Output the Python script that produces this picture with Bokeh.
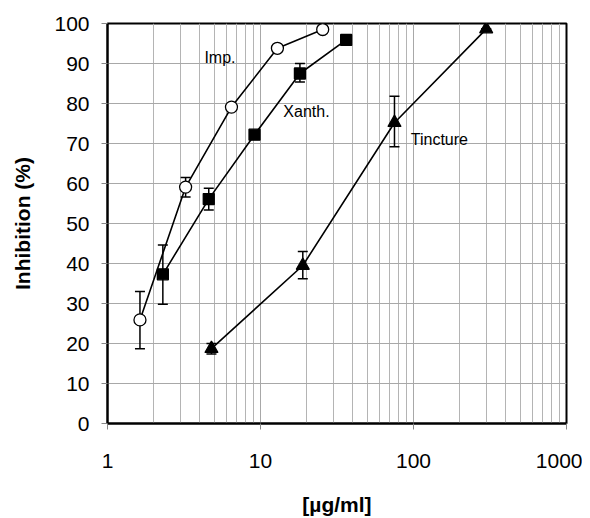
from bokeh.plotting import figure
from bokeh.models import (FixedTicker, Whisker, ColumnDataSource, Label,
                          CustomJSTickFormatter, TeeHead)
from bokeh.embed import file_html
from bokeh.resources import INLINE

# Imp. series (open circles)
imp_x = [1.63, 3.24, 6.46, 12.9, 25.5]
imp_y = [25.9, 59.1, 79.1, 93.8, 98.5]
imp_lo = [18.7, 56.6, 78.3, 93.0, 97.7]
imp_hi = [33.0, 61.5, 79.9, 94.6, 99.3]

# Xanth. series (filled squares)
xan_x = [2.30, 4.59, 9.14, 18.1, 36.3]
xan_y = [37.3, 56.1, 72.2, 87.5, 95.9]
xan_lo = [29.8, 53.4, 72.2, 85.4, 95.9]
xan_hi = [44.6, 58.8, 72.2, 90.0, 95.9]

# Tincture series (filled triangles)
tin_x = [4.78, 18.9, 75.1, 298.6]
tin_y = [18.7, 39.5, 75.2, 98.6]
tin_lo = [17.4, 36.2, 69.2, 98.6]
tin_hi = [20.0, 43.0, 81.8, 98.6]

x_major = [1, 10, 100, 1000]
x_minor = [m * d for d in (1, 10, 100) for m in range(2, 10)]
y_ticks = list(range(0, 101, 10))

FONT = "Liberation Sans"

p = figure(width=582, height=518, x_axis_type="log", x_range=(1, 1000), y_range=(0, 100),
           output_backend="svg", toolbar_location=None,
           min_border_left=107, min_border_right=16, min_border_top=23, min_border_bottom=89)

p.outline_line_color = "black"
p.outline_line_width = 2
p.background_fill_color = "white"

p.xaxis.ticker = FixedTicker(ticks=x_major, minor_ticks=x_minor)
p.xaxis.formatter = CustomJSTickFormatter(code="return Math.round(tick).toString();")
p.yaxis.ticker = FixedTicker(ticks=y_ticks)

for ax in (p.xaxis, p.yaxis):
    ax.axis_line_color = "black"
    ax.axis_line_width = 2
    ax.major_tick_line_color = "#888888"
    ax.major_tick_out = 6
    ax.major_tick_in = 0
    ax.minor_tick_line_color = None
    ax.major_label_text_font = FONT
    ax.major_label_text_font_size = "21px"
    ax.major_label_text_color = "black"
    ax.axis_label_text_font = FONT
    ax.axis_label_text_font_style = "bold"
    ax.axis_label_text_font_size = "21px"
    ax.axis_label_text_color = "black"

p.xaxis.axis_label = "[µg/ml]"
p.yaxis.axis_label = "Inhibition (%)"
p.xaxis.major_label_standoff = 24
p.xaxis.axis_label_standoff = 22
p.yaxis.major_label_standoff = 12
p.yaxis.axis_label_standoff = 17

p.xgrid.grid_line_color = "#a8a8a8"
p.xgrid.minor_grid_line_color = "#b4b4b4"
p.xgrid.grid_line_width = 1
p.ygrid.grid_line_color = "#a8a8a8"
p.ygrid.grid_line_width = 1

def series(xs, ys, lo, hi, marker, size, fill):
    src = ColumnDataSource(dict(x=xs, y=ys, lo=lo, hi=hi))
    p.line("x", "y", source=src, line_color="black", line_width=1.6)
    w = Whisker(source=src, base="x", upper="hi", lower="lo", dimension="height",
                line_color="black", line_width=1.5)
    w.upper_head = TeeHead(size=10, line_color="black", line_width=1.5)
    w.lower_head = TeeHead(size=10, line_color="black", line_width=1.5)
    p.add_layout(w)
    p.scatter("x", "y", source=src, marker=marker, size=size, line_color="black",
              line_width=1.3, fill_color=fill)

series(imp_x, imp_y, imp_lo, imp_hi, "circle", 12, "white")
series(xan_x, xan_y, xan_lo, xan_hi, "square", 11, "black")
series(tin_x, tin_y, tin_lo, tin_hi, "triangle", 13, "black")

label_names = ["Imp.", "Xanth.", "Tincture"]
label_x = [4.3, 14.1, 96.0]
label_y = [91.5, 78.0, 70.9]
for t, lx, ly in zip(label_names, label_x, label_y):
    p.add_layout(Label(x=lx, y=ly, text=t, text_font=FONT, text_font_size="16px",
                       text_color="black", text_baseline="middle", text_align="left"))

open("out.html", "w").write(file_html(p, INLINE))
